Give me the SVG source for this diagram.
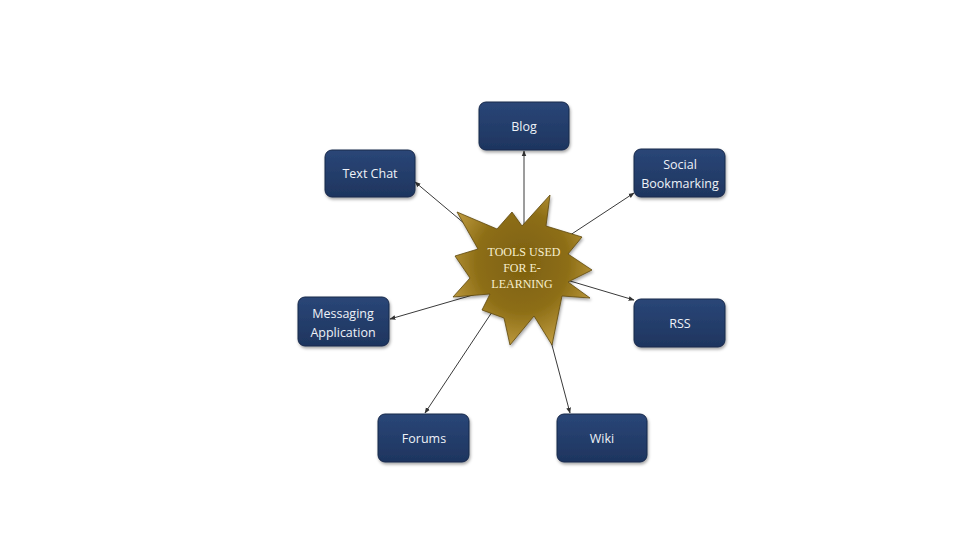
<svg xmlns="http://www.w3.org/2000/svg" width="960" height="540" viewBox="0 0 960 540">
<defs>
<linearGradient id="boxg" x1="0" y1="0" x2="0" y2="1">
<stop offset="0" stop-color="#2a4677"/>
<stop offset="1" stop-color="#1e355f"/>
</linearGradient>
<radialGradient id="starg" cx="0.5" cy="0.45" r="0.6">
<stop offset="0" stop-color="#7d600f"/>
<stop offset="0.55" stop-color="#8d6e16"/>
<stop offset="1" stop-color="#c4a044"/>
</radialGradient>
<filter id="sh" x="-20%" y="-20%" width="140%" height="150%">
<feDropShadow dx="1" dy="2" stdDeviation="1.5" flood-color="#000" flood-opacity="0.35"/>
</filter>
<marker id="arr" viewBox="0 0 10 10" refX="9" refY="5" markerWidth="6" markerHeight="6" orient="auto-start-reverse">
<path d="M0,1 L10,5 L0,9 z" fill="#333"/>
</marker>
<style>
.box{fill:url(#boxg);stroke:#16284a;stroke-width:1;filter:url(#sh)}
.lbl{font-family:"Open Sans","Noto Sans",sans-serif;font-size:12.5px;fill:#eef2f8;text-anchor:middle}
.con{stroke:#3a3a3a;stroke-width:1;fill:none;marker-end:url(#arr)}
.st{font-family:"Liberation Serif",serif;font-size:12px;fill:#f6efcf;text-anchor:middle}
</style>
</defs>
<rect width="960" height="540" fill="#ffffff"/>
<g id="connectors">
<line class="con" x1="524" y1="240" x2="524" y2="151"/>
<line class="con" x1="490" y1="245" x2="415" y2="182"/>
<line class="con" x1="555" y1="245" x2="634" y2="193"/>
<line class="con" x1="490" y1="290" x2="390" y2="319"/>
<line class="con" x1="560" y1="278" x2="634" y2="300"/>
<line class="con" x1="500" y1="300" x2="425" y2="413"/>
<line class="con" x1="540" y1="300" x2="570" y2="413"/>
</g>
<g id="center">
<polygon points="550,195 546,226 582,237 568,254 592,270 568,282 590,298 562,296 552,345 534,316 510,345 504,318 482,310 490,294 453,297 470,278 455,256 478,249 457,212 497,229 512,212 522,226" fill="url(#starg)" stroke="#5e480c" stroke-width="0.8" filter="url(#sh)"/>
<text class="st" x="524" y="256">TOOLS USED</text>
<text class="st" x="522" y="272">FOR E-</text>
<text class="st" x="522" y="288">LEARNING</text>
</g>
<g id="blog"><rect class="box" x="479" y="102" width="90" height="48" rx="7"/><text class="lbl" x="524" y="131">Blog</text></g>
<g id="textchat"><rect class="box" x="325" y="150" width="90" height="47" rx="7"/><text class="lbl" x="370" y="178">Text Chat</text></g>
<g id="social"><rect class="box" x="634" y="149" width="91" height="48" rx="7"/><text class="lbl" x="680" y="169">Social</text><text class="lbl" x="680" y="188">Bookmarking</text></g>
<g id="messaging"><rect class="box" x="298" y="297" width="91" height="49" rx="7"/><text class="lbl" x="343" y="318">Messaging</text><text class="lbl" x="343" y="337">Application</text></g>
<g id="rss"><rect class="box" x="634" y="299" width="91" height="48" rx="7"/><text class="lbl" x="680" y="328">RSS</text></g>
<g id="forums"><rect class="box" x="378" y="414" width="91" height="48" rx="7"/><text class="lbl" x="424" y="443">Forums</text></g>
<g id="wiki"><rect class="box" x="557" y="414" width="90" height="48" rx="7"/><text class="lbl" x="602" y="443">Wiki</text></g>
</svg>
